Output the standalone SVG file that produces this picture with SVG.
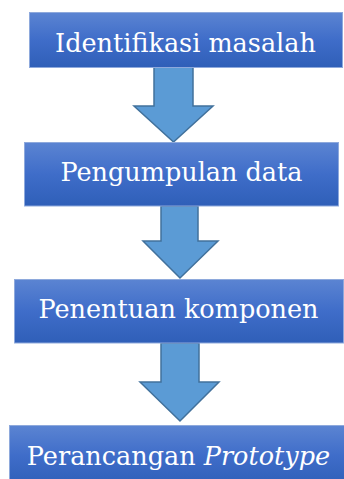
<svg xmlns="http://www.w3.org/2000/svg" width="344" height="479" viewBox="0 0 344 479">
<defs>
<linearGradient id="boxg" x1="0" y1="0" x2="0" y2="1">
<stop offset="0" stop-color="#5b84d2"/>
<stop offset="0.5" stop-color="#3f6dc9"/>
<stop offset="1" stop-color="#2f5fb8"/>
</linearGradient>
</defs>
<style>
.box{fill:url(#boxg);stroke:#8ea9dc;stroke-width:1}
.lbl{font-family:"DejaVu Serif",serif;font-size:25.5px;fill:#ffffff;text-anchor:middle}
.arr{fill:#5b9bd5;stroke:#41719c;stroke-width:1.5;stroke-linejoin:miter}
</style>
<g id="connectors">
<path class="arr" d="M154,67 L193,67 L193,106 L213,106 L173.5,142 L134,106 L154,106 Z"/>
<path class="arr" d="M161,206 L198,206 L198,241 L218,241 L180,278 L143,241 L161,241 Z"/>
<path class="arr" d="M161,343 L199,343 L199,382 L219,382 L180,421 L140,382 L161,382 Z"/>
</g>
<g id="n1">
<rect class="box" x="29.5" y="12.5" width="313" height="55"/>
<text class="lbl" x="185.5" y="52">Identifikasi masalah</text>
</g>
<g id="n2">
<rect class="box" x="24.5" y="142.5" width="314" height="63.5"/>
<text class="lbl" x="181.5" y="181">Pengumpulan data</text>
</g>
<g id="n3">
<rect class="box" x="14.5" y="279.5" width="329" height="63.5"/>
<text class="lbl" x="178.5" y="318">Penentuan komponen</text>
</g>
<g id="n4">
<rect class="box" x="9.5" y="425.5" width="340" height="60"/>
<text class="lbl" x="178.5" y="465">Perancangan <tspan font-style="italic">Prototype</tspan></text>
</g>
</svg>
